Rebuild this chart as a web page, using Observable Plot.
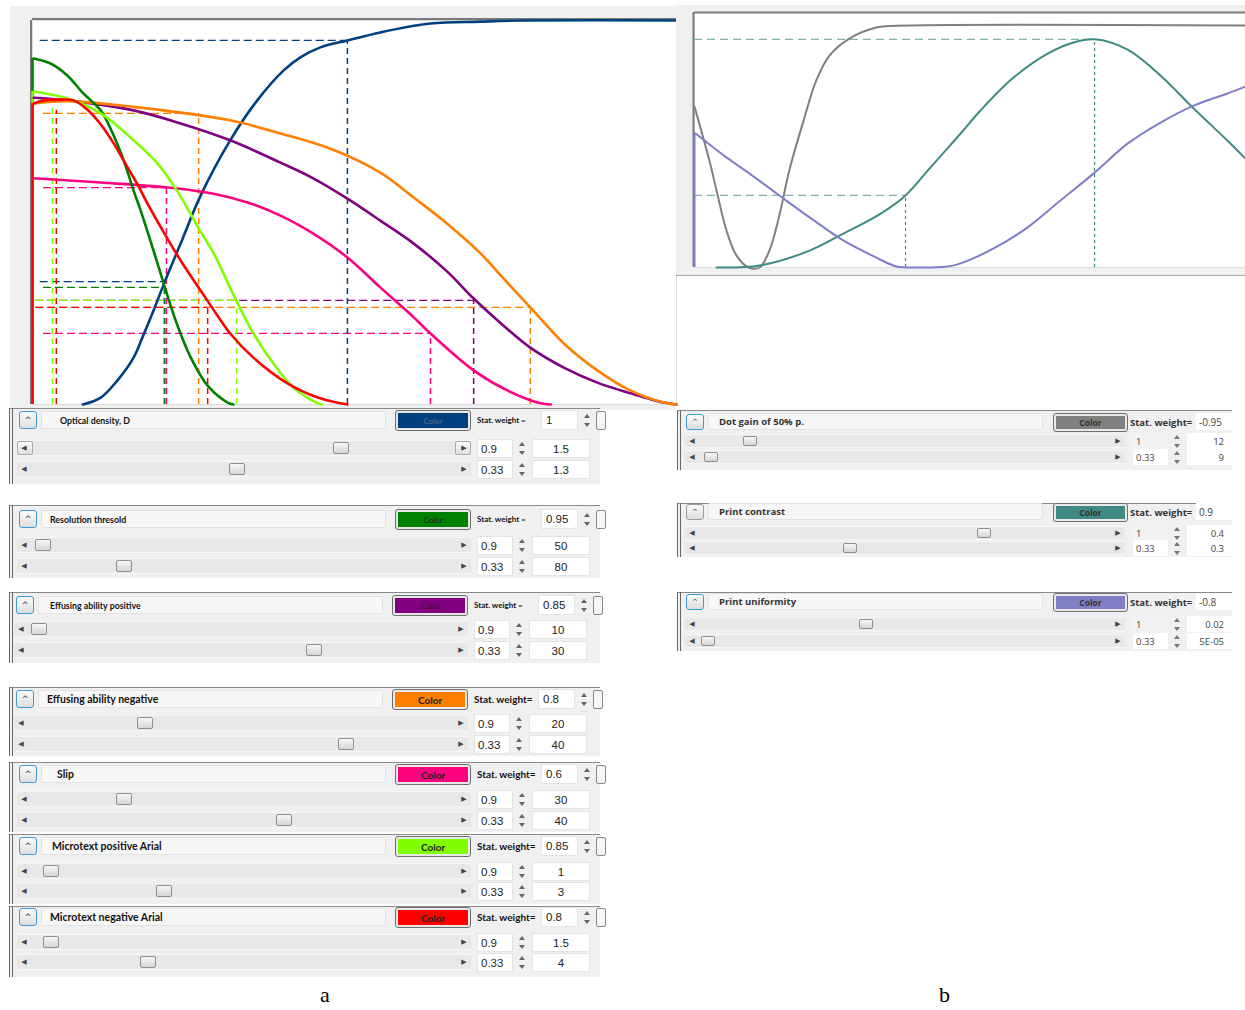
<!DOCTYPE html>
<html><head><meta charset="utf-8">
<script src="https://cdn.jsdelivr.net/npm/d3@7"></script>
<script src="https://cdn.jsdelivr.net/npm/@observablehq/plot@0.6"></script>
<style>
html,body{margin:0;padding:0;background:#fff}
body{width:1245px;height:1010px;position:relative;overflow:hidden;font-family:"Liberation Sans",Arial,sans-serif}
#chartA{position:absolute;left:10px;top:6px}
#chartB{position:absolute;left:676px;top:5px}
.lbl{position:absolute;font:22px "Liberation Serif",serif;color:#000}
</style></head><body>
<div id="chartA"></div>
<div id="chartB"></div>
<div id="root"></div>
<div class="lbl" style="left:320px;top:982px">a</div>
<div class="lbl" style="left:939px;top:982px">b</div>
<script>
// ---------- Chart a data (x: 0-100 of the axis, y: 0-100 of the response) ----------
const seriesA = ["Optical density, D","Resolution thresold","Effusing ability positive","Effusing ability negative","Slip","Microtext positive Arial","Microtext negative Arial"];
const colorsA = ["#004080","#008000","#800080","#ff8000","#ff0080","#80ff00","#ff0000"];
const weightsA = ["1","0.95","0.85","0.8","0.6","0.85","0.8"];
const row1A = [["0.9","1.5"],["0.9","50"],["0.9","10"],["0.9","20"],["0.9","30"],["0.9","1"],["0.9","1.5"]];
const row2A = [["0.33","1.3"],["0.33","80"],["0.33","30"],["0.33","40"],["0.33","40"],["0.33","3"],["0.33","4"]];
const slidersA = [[0.734,0.483],[0.014,0.210],[0.012,0.676],[0.268,0.754],[0.210,0.597],[0.034,0.307],[0.034,0.268]];

const opticalDensity = [[7.8,0],[10.6,1.8],[13.2,6.3],[15.7,12.2],[17.2,18.0],[18.8,24.5],[20.5,31.8],[23.0,41.9],[26.1,54.4],[30.7,68.8],[34.9,79.2],[39.0,87.0],[41.6,90.4],[44.7,93.0],[48.9,94.8],[54.0,96.9],[61.8,99.2],[69.6,99.7],[76.2,100],[100,100]];
const resolutionThreshold = [[0,0],[0.2,90.1],[2.8,88.8],[5.4,85.7],[7.9,81.0],[10.6,76.6],[12.1,71.9],[13.7,65.6],[14.8,60.4],[15.7,55.7],[16.8,50.5],[18.3,42.7],[19.9,34.1],[21.0,28.1],[22.5,20.6],[24.5,12.5],[27.2,4.9],[30.3,0.5],[31.2,0]];
const effusingPositive = [[0,0],[0.2,79.9],[5.4,79.2],[15.7,76.6],[23.0,73.2],[30.7,68.8],[38.5,63.0],[43.6,58.9],[48.9,53.6],[54.0,47.9],[59.2,41.9],[64.4,34.6],[68.5,27.6],[73.1,20.6],[77.3,14.8],[82.5,9.6],[87.7,5.7],[92.9,2.9],[98.0,0.5],[100,0]];
const effusingNegative = [[0,0],[0.2,78.4],[5.4,79.0],[15.7,77.5],[23.0,76.0],[30.7,74.0],[38.5,70.6],[46.3,66.6],[54.0,60.4],[59.2,53.9],[64.4,47.1],[69.6,39.3],[72.7,33.6],[77.3,25.3],[82.5,15.9],[87.7,8.9],[92.9,3.6],[98.0,0.5],[100,0]];
const slip = [[0,0],[0.2,58.9],[10.6,57.8],[21.0,56.5],[28.1,54.9],[33.4,52.6],[38.5,49.2],[43.6,44.5],[48.9,38.3],[54.0,30.5],[59.2,22.7],[61.8,18.5],[68.5,8.9],[73.8,3.6],[78.9,0.3],[80.5,0]];
const microPositive = [[0,0],[0.2,81.5],[5.4,79.7],[10.6,75.8],[15.7,68.8],[19.4,62.8],[22.5,55.5],[26.1,45.0],[28.1,39.5],[31.2,28.6],[34.3,18.5],[37.4,10.7],[40.5,4.4],[44.3,0.3],[45.0,0]];
const microNegative = [[0,0],[0.2,78.4],[1.7,79.2],[4.3,79.4],[6.4,79.2],[8.5,76.8],[10.6,72.9],[12.6,68.0],[14.4,62.8],[16.3,57.3],[17.9,52.2],[20.3,45.1],[23.0,37.5],[26.1,29.7],[28.7,23.2],[30.7,18.5],[34.3,12.2],[39.6,5.5],[44.3,1.8],[47.8,0.3],[48.9,0]];
const pointsA = [opticalDensity, resolutionThreshold, effusingPositive, effusingNegative, slip, microPositive, microNegative];
// reference marks per series: [x at the level, level y, where the horizontal guide starts]
const guideMarksA = [
  [[48.9,94.8,1.2],[20.5,32.0,1.2]],
  [[20.5,30.5,1.7]],
  [[68.5,27.1,0.5]],
  [[25.8,75.8,1.7],[77.3,25.3,0.5]],
  [[20.8,56.5,1.7],[61.8,18.5,1.7]],
  [[3.1,78.0,3.1],[31.7,27.1,0.5]],
  [[3.7,76.6,3.7],[27.2,25.3,0.5]]
];
const drawOrderA = [0,4,2,3,1,5,6];

// ---------- Chart b data ----------
const seriesB = ["Dot gain of 50% p.","Print contrast","Print uniformity"];
const colorsB = ["#808080","#3f8a82","#7f7fc8"];
const weightsB = ["-0.95","0.9","-0.8"];
const row1B = [["1","12"],["1","0.4"],["1","0.02"]];
const row2B = [["0.33","9"],["0.33","0.3"],["0.33","5E-05"]];
const slidersB = [[0.114,0.017],[0.697,0.363],[0.403,0.01]];
const dotGain = [[0,66.5],[2.7,44.2],[4.0,31.8],[5.8,15.3],[7.6,5.0],[9.8,0],[11.8,0],[13.6,7.0],[15.4,21.5],[17.2,40.1],[19.8,60.7],[22.1,77.3],[24.5,87.6],[28.1,94.6],[33.0,99.2],[39.0,100],[100,100]];
const printContrast = [[4.0,0],[11.8,0.8],[20.9,7.0],[27.0,14.0],[33.8,22.3],[38.3,29.8],[42.8,41.3],[48.3,55.4],[51.9,64.9],[57.9,78.5],[64.1,88.4],[68.8,93.0],[72.6,94.3],[78.6,90.1],[84.6,79.3],[90.6,65.7],[96.7,52.5],[100,45.0]];
const printUniformity = [[0,0],[0.2,55.4],[5.8,45.5],[10.0,38.8],[14.9,30.6],[20.9,20.7],[27.0,11.2],[33.0,4.1],[36.7,0.4],[41.0,0],[45.9,0.4],[48.3,1.7],[54.3,7.9],[60.4,16.5],[66.4,27.7],[72.4,38.8],[78.6,51.2],[84.6,59.9],[90.6,66.9],[96.7,71.9],[100,74.8]];
const pointsB = [dotGain, printContrast, printUniformity];
const guideMarksB = [[72.6,94.3,0],[38.3,29.8,0]];

// ---------- build tables ----------
// a series that starts with [0,0] rises along the left edge first; that edge is drawn as a rule
function split(series, points, order){
  const curves = [], edges = [];
  order.forEach(i => {
    let pts = points[i];
    if (pts[0][0] === 0 && pts[0][1] === 0) { edges.push({s: series[i], y: pts[1][1]}); pts = pts.slice(1); }
    pts.forEach(([x,y]) => curves.push({s: series[i], x, y}));
  });
  return {curves, edges};
}
const A = split(seriesA, pointsA, drawOrderA);
const B = split(seriesB, pointsB, [0,1,2]);
const guidesA = seriesA.flatMap((s,i) => guideMarksA[i].map(([x,y,x0]) => ({s, x, y, x0})));
const guidesB = guideMarksB.map(([x,y,x0]) => ({x,y,x0}));

const chartA = Plot.plot({
  width: 666, height: 404,
  marginLeft: 22, marginRight: 0, marginTop: 14, marginBottom: 6,
  x: {domain: [0,100], axis: null},
  y: {domain: [0,100], axis: null},
  color: {domain: seriesA, range: colorsA},
  style: {background: "#f0f0f0", overflow: "visible"},
  marks: [
    Plot.frame({fill: "white", stroke: "#dcdcdc"}),
    Plot.ruleX([0], {stroke: "#7a7a7a", strokeWidth: 2, dx: -1.5}),
    Plot.ruleY([100], {stroke: "#7a7a7a", strokeWidth: 2, dy: -1.5}),
    Plot.ruleY(guidesA, {y: "y", x1: "x0", x2: "x", stroke: "s", strokeWidth: 1.3, strokeDasharray: "8,4"}),
    Plot.ruleX(guidesA, {x: "x", y1: 0, y2: "y", stroke: "s", strokeWidth: 1.5, strokeDasharray: "6,4"}),
    Plot.ruleX(A.edges, {x: 0, y1: 0, y2: "y", stroke: "s", strokeWidth: 2.6}),
    Plot.line(A.curves, {x: "x", y: "y", z: "s", stroke: "s", strokeWidth: 2.6, curve: "catmull-rom"})
  ]
});
document.getElementById("chartA").appendChild(chartA);

const chartB = Plot.plot({
  width: 569, height: 271,
  marginLeft: 18, marginRight: 0, marginTop: 7, marginBottom: 9,
  x: {domain: [0,100], axis: null},
  y: {domain: [0,105.4], axis: null},
  color: {domain: seriesB, range: colorsB},
  style: {background: "#f0f0f0", overflow: "visible"},
  marks: [
    Plot.frame({fill: "white", stroke: "#dcdcdc"}),
    Plot.ruleX([0], {stroke: "#7a7a7a", strokeWidth: 2, dx: -1}),
    Plot.ruleY([105.4], {stroke: "#7a7a7a", strokeWidth: 2}),
    Plot.ruleY(guidesB, {y: "y", x1: "x0", x2: "x", stroke: "#7fb2ab", strokeWidth: 1.2, strokeDasharray: "8,5"}),
    Plot.ruleX(guidesB, {x: "x", y1: 0, y2: "y", stroke: "#3f8a82", strokeWidth: 1.2, strokeDasharray: "3,3"}),
    Plot.ruleX(B.edges, {x: 0, y1: 0, y2: "y", stroke: "s", strokeWidth: 2}),
    Plot.line(B.curves, {x: "x", y: "y", z: "s", stroke: "s", strokeWidth: 2, curve: "catmull-rom"})
  ]
});
document.getElementById("chartB").appendChild(chartB);

// ---------- control panels (HTML) ----------
const root = document.getElementById("root");
function box(l,t,w,h,css,text){
  const d = document.createElement("div");
  let s = `position:absolute;left:${l}px;top:${t}px;box-sizing:border-box;`;
  if (w != null) s += `width:${w}px;`;
  if (h != null) s += `height:${h}px;`;
  d.style.cssText = s + (css || "");
  if (text != null) d.textContent = text;
  root.appendChild(d);
  return d;
}
const FLEX = "display:flex;align-items:center;white-space:nowrap;overflow:hidden;";
function spin(x, cy, c){
  box(x-3, cy-6, null, null, `box-sizing:content-box;width:0;height:0;border-left:3px solid transparent;border-right:3px solid transparent;border-bottom:4px solid ${c}`);
  box(x-3, cy+3, null, null, `box-sizing:content-box;width:0;height:0;border-left:3px solid transparent;border-right:3px solid transparent;border-top:4px solid ${c}`);
}
function slider(x1, x2, cy, h, frac, thumbW, thumbH, buttons){
  box(x1, cy-h/2, x2-x1, h, "background:#e8e8e8;border-top:1px solid #f6f6f6;border-bottom:1px solid #f6f6f6");
  if (buttons) {
    box(x1, cy-h/2+1, 16, h-2, "border:1px solid #a9a9a9;border-radius:2px;background:linear-gradient(#fafafa,#e0e0e0)");
    box(x2-16, cy-h/2+1, 16, h-2, "border:1px solid #a9a9a9;border-radius:2px;background:linear-gradient(#fafafa,#e0e0e0)");
  }
  box(x1+3, cy-h/2, 8, h, FLEX+"justify-content:center;font:7px 'DejaVu Sans';color:#444", "◀");
  box(x2-11, cy-h/2, 8, h, FLEX+"justify-content:center;font:7px 'DejaVu Sans';color:#444", "▶");
  const travel = (x2-x1) - 2*12 - thumbW;
  const tx = x1 + 12 + frac*travel;
  box(tx, cy-thumbH/2, thumbW, thumbH, "border:1px solid #8f8f8f;border-radius:2px;background:linear-gradient(#f7f7f7,#d6d6d6)");
}

const layoutA = [
  {hy:420, r:[448,469], dx:0,  ind:18, big:false, top:408, bot:484},
  {hy:519, r:[545,566], dx:0,  ind:8,  big:false, top:505, bot:578},
  {hy:605, r:[629,650], dx:-3, ind:11, big:false, top:592, bot:663},
  {hy:699, r:[723,744], dx:-3, ind:8,  big:true,  top:687, bot:756},
  {hy:774, r:[799,820], dx:0,  ind:15, big:true,  top:762, bot:832},
  {hy:846, r:[871,891], dx:0,  ind:10, big:true,  top:834, bot:904},
  {hy:917, r:[942,962], dx:0,  ind:8,  big:true,  top:906, bot:977}
];
layoutA.forEach((L, i) => {
  const dx = L.dx, hy = L.hy;
  box(9, L.top, 591, L.bot-L.top, "background:#f0f0f0;border-top:1px solid #8a8a8a");
  box(9, L.top, 1, L.bot-L.top, "background:#666");
  box(12, L.top, 1, L.bot-L.top, "background:#666");
  box(19+dx, hy-9, 18, 18, FLEX+"justify-content:center;border:1px solid #3d9ad8;border-radius:3px;background:linear-gradient(#fbfbfb,#dedede);font:8px 'DejaVu Sans';color:#333", "^");
  const lf = L.big ? "bold 10.5px Lato" : "bold 8.8px Lato";
  box(41+dx, hy-9, 345, 18, FLEX+`padding-left:${L.ind}px;border:1px solid #e2e2e2;border-radius:2px;background:#f7f7f7;font:${lf};color:#111`, seriesA[i]);
  box(395+dx, hy-10, 76, 21, "border:1px solid #6f6f6f;border-radius:3px;background:#e8e8e8");
  box(398+dx, hy-7, 70, 15, FLEX+`justify-content:center;background:${colorsA[i]};font:${L.big ? "bold 10px Lato" : "8px Lato"};color:${i===0?"#5a6f8a":"#222"}`, "Color");
  box(477+dx, hy-8, 64, 16, FLEX+`font:${L.big ? "bold 10px Lato" : "bold 8px Lato"};color:#111`, L.big ? "Stat. weight=" : "Stat. weight  =");
  box(541+dx, hy-10, 37, 20, FLEX+"padding-left:4px;background:#fff;border:1px solid #e4e4e4;font:11.5px 'Liberation Sans';color:#222", weightsA[i]);
  spin(587+dx, hy, "#666");
  box(596+dx, hy-9, 10, 19, "border:1px solid #888;border-radius:2px;background:#f6f6f6");
  [row1A[i], row2A[i]].forEach((vals, k) => {
    const cy = L.r[k];
    slider(17+dx, 471+dx, cy, 16, slidersA[i][k], 16, 12, i === 0 && k === 0);
    box(477+dx, cy-9, 36, 19, FLEX+"padding-left:3px;background:#fff;border:1px solid #e4e4e4;font:11.5px 'Liberation Sans';color:#222", vals[0]);
    spin(522+dx, cy, "#666");
    box(532+dx, cy-9, 58, 19, FLEX+"justify-content:center;background:#fff;border:1px solid #e4e4e4;font:11.5px 'Liberation Sans';color:#222", vals[1]);
  });
});

const layoutB = [
  {hy:422, r:[441,457], top:410, bot:470},
  {hy:512, r:[533,548], top:503, bot:557},
  {hy:602, r:[624,641], top:592, bot:651}
];
layoutB.forEach((L, i) => {
  const hy = L.hy;
  box(677, L.top, 555, L.bot-L.top, "background:#f0f0f0;border-top:1px solid #8a8a8a");
  box(677, L.top, 1, L.bot-L.top, "background:#666");
  box(680, L.top, 1, L.bot-L.top, "background:#666");
  box(686, hy-8, 18, 16, FLEX+"justify-content:center;border:1px solid "+(i===1?"#9a9a9a":"#3d9ad8")+";border-radius:3px;background:linear-gradient(#fbfbfb,#dedede);font:7px 'DejaVu Sans';color:#333", "^");
  box(708, hy-9, 335, 17, FLEX+"padding-left:10px;border:1px solid #e2e2e2;border-radius:2px;background:#f7f7f7;font:bold 9.5px 'Open Sans';color:#333", seriesB[i]);
  box(1053, hy-9, 75, 19, "border:1px solid #6f6f6f;border-radius:3px;background:#e8e8e8");
  box(1056, hy-6, 69, 13, FLEX+`justify-content:center;background:${colorsB[i]};font:bold 8.5px 'Open Sans';color:#333`, "Color");
  box(1130, hy-8, 66, 16, FLEX+"font:bold 9.5px 'Open Sans';color:#333", "Stat. weight=");
  box(1196, hy-9, 36, 17, FLEX+"padding-left:3px;background:#fff;font:10px 'Open Sans';color:#444", weightsB[i]);
  [row1B[i], row2B[i]].forEach((vals, k) => {
    const cy = L.r[k];
    slider(685, 1125, cy, 14, slidersB[i][k], 14, 10, false);
    box(1133, cy-8, 35, 16, FLEX+"padding-left:3px;background:"+(k===0?"#f2f2f2":"#fff")+";font:9.5px 'Open Sans';color:#444", vals[0]);
    spin(1177, cy, "#777");
    box(1187, cy-8, 45, 16, FLEX+"justify-content:flex-end;padding-right:8px;background:#fff;font:9.5px 'Open Sans';color:#444", vals[1]);
  });
});
// bottom edge of chart b window
box(676, 275, 569, 1, "background:#a8a8a8");
</script>
</body></html>
